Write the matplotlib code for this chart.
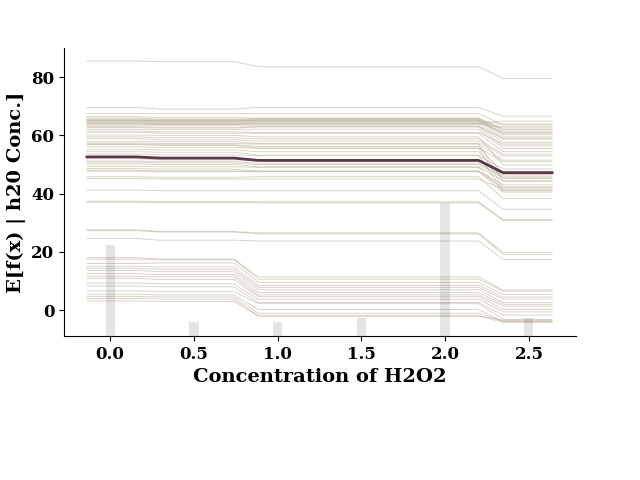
import numpy as np
import matplotlib
matplotlib.use("Agg")
import matplotlib.pyplot as plt

plt.rcParams['font.family'] = ['DejaVu Serif']
plt.rcParams['font.weight'] = 'bold'
plt.rcParams['axes.labelweight'] = 'bold'

# grid of H2O2 concentrations where the model was evaluated
x_grid = [-0.137, 0.009, 0.155, 0.301, 0.447, 0.593, 0.739, 0.885, 1.031, 1.177,
          1.323, 1.469, 1.615, 1.761, 1.907, 2.053, 2.199, 2.345, 2.491, 2.637]
# number of grid points in each constant segment of the tree model
seg_len = [3, 4, 10, 3]

# ICE curve levels per segment (x<0.25, 0.25-0.8, 0.8-2.3, >2.3)
ice_a = [85.5, 69.6, 67.5, 66.5, 66.0, 65.6, 65.2, 64.8, 64.5, 64.2, 63.9, 65.0, 63.5,
         62.7, 62.1, 61.0, 60.1, 58.9, 58.0, 57.4, 56.9, 56.1, 55.2, 54.4, 53.6, 51.2,
         50.2, 49.4, 48.6, 47.7, 45.8, 45.2, 41.2, 37.4, 37.0, 27.6, 24.6, 27.3, 18.0,
         17.5, 16.0, 14.3, 13.6, 11.6, 10.9, 9.3, 8.3, 6.6, 5.4, 4.7, 4.0, 3.1, 12.5,
         15.0, 65.3, 64.0, 59.5, 61.5, 57.0, 52.0, 50.8, 48.0, 63.0]
ice_b = [85.3, 69.0, 67.5, 66.0, 65.5, 65.3, 65.0, 64.6, 64.3, 64.0, 63.8, 64.8, 63.5,
         62.5, 62.0, 60.8, 60.0, 58.5, 57.8, 57.2, 56.5, 55.9, 55.0, 54.2, 53.3, 51.0,
         50.0, 49.2, 48.4, 47.5, 45.6, 45.0, 41.0, 37.3, 36.9, 27.0, 24.0, 26.8, 17.5,
         17.3, 16.2, 14.0, 13.2, 11.4, 10.5, 9.0, 8.0, 6.4, 5.2, 4.5, 3.8, 3.0, 12.2,
         14.8, 65.0, 63.8, 59.2, 61.2, 56.8, 51.6, 50.5, 47.8, 62.8]
ice_c = [83.6, 69.6, 67.5, 66.0, 65.8, 65.5, 65.0, 64.8, 64.5, 64.2, 63.9, 65.2, 63.5,
         62.9, 62.1, 60.7, 59.5, 58.0, 57.2, 57.0, 55.7, 55.5, 54.4, 53.2, 53.0, 50.4,
         49.2, 49.0, 47.7, 47.7, 45.8, 45.0, 41.0, 37.2, 36.8, 26.5, 23.7, 26.2, 11.4,
         10.6, 9.5, 7.8, 7.0, 5.2, 4.6, 3.7, 2.6, 2.2, 0.2, -1.1, -2.0, -2.0, 6.0,
         8.5, 65.3, 64.0, 58.8, 61.0, 56.2, 51.2, 50.0, 47.5, 63.0]
ice_d = [79.5, 66.6, 63.5, 62.0, 61.5, 60.7, 59.5, 62.9, 61.0, 58.7, 64.9, 63.9, 57.6,
         56.4, 55.5, 54.4, 49.8, 52.9, 51.5, 44.1, 51.0, 42.3, 45.2, 40.9, 48.5, 46.0,
         44.5, 41.2, 43.0, 40.5, 38.3, 41.5, 34.6, 31.1, 30.7, 19.8, 17.4, 19.1, 6.9,
         6.5, 5.4, 3.8, 2.6, 1.4, 0.2, -0.6, -1.7, -3.2, -4.0, -3.8, -3.5, -4.2, 2.0,
         4.5, 60.2, 62.5, 53.5, 57.0, 47.0, 46.5, 45.5, 42.0, 59.0]

# average (partial dependence) curve levels per segment
pd_levels = [52.6, 52.2, 51.4, 47.2]

# distribution of observed H2O2 concentrations
conc_values = [0.0, 0.5, 1.0, 1.5, 2.0, 2.5]
conc_counts = [20, 3, 3, 4, 29, 4]

xs = np.array(x_grid)
fig = plt.figure(figsize=(6.4, 4.8), dpi=100)
ax1 = fig.add_axes([0.1, 0.3, 0.8, 0.6])

ice = np.array([np.repeat([a, b, c, d], seg_len)
                for a, b, c, d in zip(ice_a, ice_b, ice_c, ice_d)]).T
ax1.plot(xs, ice, color='#aea386', linewidth=0.7, alpha=0.45)
ax1.plot(xs, np.repeat(pd_levels, seg_len), color='#5e3649', linewidth=2.0)

ax1.set_xlim(-0.274, 2.78)
ax1.set_ylim(-8.9, 90.0)
ax1.set_xticks([0.0, 0.5, 1.0, 1.5, 2.0, 2.5])
ax1.set_yticks([0, 20, 40, 60, 80])
ax1.set_xticklabels(['0.0', '0.5', '1.0', '1.5', '2.0', '2.5'],
                    fontsize=12, fontweight='bold', family='DejaVu Serif')
ax1.set_yticklabels(['0', '20', '40', '60', '80'],
                    fontsize=12, fontweight='bold', family='DejaVu Serif')
ax1.set_xlabel("Concentration of H2O2", fontsize=14, fontweight='bold', family='DejaVu Serif')
ax1.set_ylabel("E[f(x) | h20 Conc.]", fontsize=14, fontweight='bold', family='DejaVu Serif')
ax1.spines['top'].set_visible(False)
ax1.spines['right'].set_visible(False)

ax2 = ax1.twinx()
xv = np.repeat(conc_values, conc_counts)
ax2.hist(xv, 50, density=False, facecolor='black', alpha=0.1, range=(xs[0], xs[-1]))
ax2.set_ylim(0, len(xv))
ax2.set_yticks([])
for s in ['top', 'right', 'left', 'bottom']:
    ax2.spines[s].set_visible(False)

fig.savefig("out.png", dpi=100)
